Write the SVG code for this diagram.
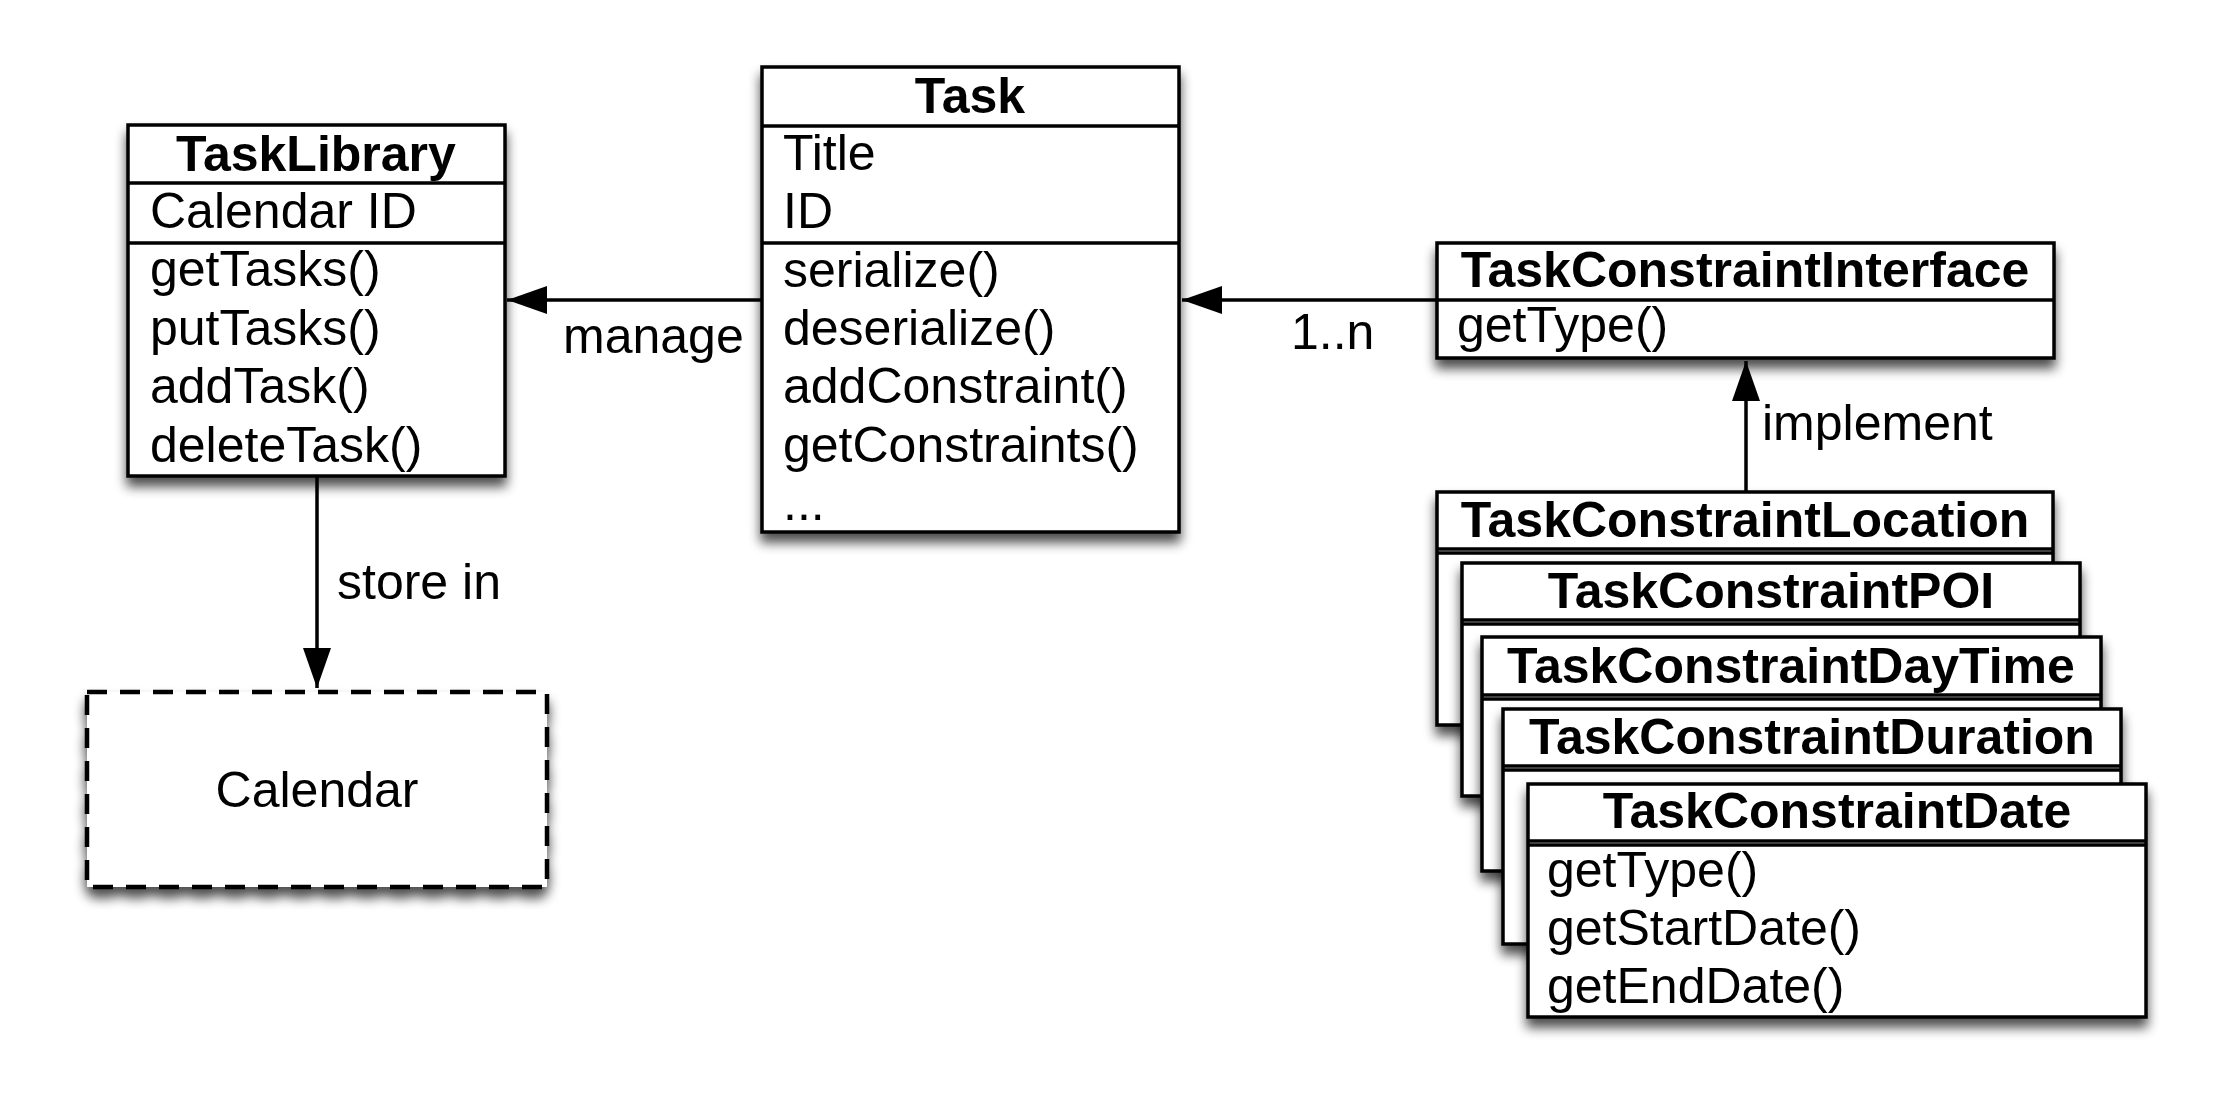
<svg xmlns="http://www.w3.org/2000/svg" width="2229" height="1116" viewBox="0 0 2229 1116">
<style>
  .box { fill: #ffffff; stroke: #000000; stroke-width: 3.5; filter: url(#shadow); }
  .sep { stroke: #000000; stroke-width: 3.5; fill: none; }
  .dash { fill: #ffffff; stroke: #000000; stroke-width: 4.5; stroke-dasharray: 20 13; filter: url(#shadow); }
  .t { font-family: "Liberation Sans", Arial, Helvetica, sans-serif; font-size: 50px; fill: #000000; }
  .b { font-weight: bold; text-anchor: middle; }
  .c { text-anchor: middle; }
  .edge { stroke: #000000; stroke-width: 3.5; fill: none; }
</style>
<defs>
  <filter id="shadow" x="-10%" y="-10%" width="125%" height="130%">
    <feGaussianBlur in="SourceAlpha" stdDeviation="6"/>
    <feOffset dx="0" dy="9" result="ob"/>
    <feComponentTransfer><feFuncA type="linear" slope="0.7"/></feComponentTransfer>
    <feMerge><feMergeNode/><feMergeNode in="SourceGraphic"/></feMerge>
  </filter>
  <marker id="arrow" viewBox="0 0 40 28" refX="40" refY="14" markerWidth="40" markerHeight="28" markerUnits="userSpaceOnUse" orient="auto">
    <path d="M0,0 L40,14 L0,28 Z" fill="#000000"/>
  </marker>
</defs>
<rect x="0" y="0" width="2229" height="1116" fill="#ffffff"/>

<g id="connectors">
  <line class="edge" x1="762" y1="300" x2="507" y2="300" marker-end="url(#arrow)"/>
  <line class="edge" x1="1437" y1="300" x2="1182" y2="300" marker-end="url(#arrow)"/>
  <line class="edge" x1="1746" y1="492" x2="1746" y2="361" marker-end="url(#arrow)"/>
  <line class="edge" x1="317" y1="476" x2="317" y2="688" marker-end="url(#arrow)"/>
  <text class="t" x="563" y="353">manage</text>
  <text class="t" x="1291" y="349">1..n</text>
  <text class="t" x="1762" y="440">implement</text>
  <text class="t" x="337" y="599">store in</text>
</g>

<g id="TaskLibrary">
  <rect class="box" x="128" y="125" width="377" height="351"/>
  <line class="sep" x1="128" y1="183" x2="505" y2="183"/>
  <line class="sep" x1="128" y1="243" x2="505" y2="243"/>
  <text class="t b" x="316" y="171">TaskLibrary</text>
  <text class="t" x="150" y="228">Calendar ID</text>
  <text class="t" x="150" y="286">getTasks()</text>
  <text class="t" x="150" y="345">putTasks()</text>
  <text class="t" x="150" y="403">addTask()</text>
  <text class="t" x="150" y="462">deleteTask()</text>
</g>

<g id="Task">
  <rect class="box" x="762" y="67" width="417" height="465"/>
  <line class="sep" x1="762" y1="126" x2="1179" y2="126"/>
  <line class="sep" x1="762" y1="243" x2="1179" y2="243"/>
  <text class="t b" x="970" y="113">Task</text>
  <text class="t" x="783" y="170">Title</text>
  <text class="t" x="783" y="228">ID</text>
  <text class="t" x="783" y="287">serialize()</text>
  <text class="t" x="783" y="345">deserialize()</text>
  <text class="t" x="783" y="403">addConstraint()</text>
  <text class="t" x="783" y="462">getConstraints()</text>
  <text class="t" x="783" y="520">...</text>
</g>

<g id="TaskConstraintInterface">
  <rect class="box" x="1437" y="243" width="617" height="115"/>
  <line class="sep" x1="1437" y1="300" x2="2054" y2="300"/>
  <text class="t b" x="1745" y="287">TaskConstraintInterface</text>
  <text class="t" x="1457" y="342">getType()</text>
</g>

<g id="Calendar">
  <rect class="dash" x="87" y="692" width="460" height="195"/>
  <text class="t c" x="317" y="807">Calendar</text>
</g>

<g id="TaskConstraintLocation">
  <rect class="box" x="1437" y="492" width="616" height="233"/>
  <line class="sep" x1="1437" y1="549" x2="2053" y2="549"/>
  <line class="sep" x1="1437" y1="553" x2="2053" y2="553"/>
  <text class="t b" x="1745" y="537">TaskConstraintLocation</text>
</g>

<g id="TaskConstraintPOI">
  <rect class="box" x="1462" y="563" width="618" height="233"/>
  <line class="sep" x1="1462" y1="620" x2="2080" y2="620"/>
  <line class="sep" x1="1462" y1="624" x2="2080" y2="624"/>
  <text class="t b" x="1771" y="608">TaskConstraintPOI</text>
</g>

<g id="TaskConstraintDayTime">
  <rect class="box" x="1482" y="637" width="619" height="234"/>
  <line class="sep" x1="1482" y1="695" x2="2101" y2="695"/>
  <line class="sep" x1="1482" y1="699" x2="2101" y2="699"/>
  <text class="t b" x="1791" y="683">TaskConstraintDayTime</text>
</g>

<g id="TaskConstraintDuration">
  <rect class="box" x="1503" y="709" width="618" height="235"/>
  <line class="sep" x1="1503" y1="766" x2="2121" y2="766"/>
  <line class="sep" x1="1503" y1="770" x2="2121" y2="770"/>
  <text class="t b" x="1812" y="754">TaskConstraintDuration</text>
</g>

<g id="TaskConstraintDate">
  <rect class="box" x="1528" y="784" width="618" height="233"/>
  <line class="sep" x1="1528" y1="841" x2="2146" y2="841"/>
  <line class="sep" x1="1528" y1="845" x2="2146" y2="845"/>
  <text class="t b" x="1837" y="828">TaskConstraintDate</text>
  <text class="t" x="1547" y="887">getType()</text>
  <text class="t" x="1547" y="945">getStartDate()</text>
  <text class="t" x="1547" y="1003">getEndDate()</text>
</g>
</svg>
